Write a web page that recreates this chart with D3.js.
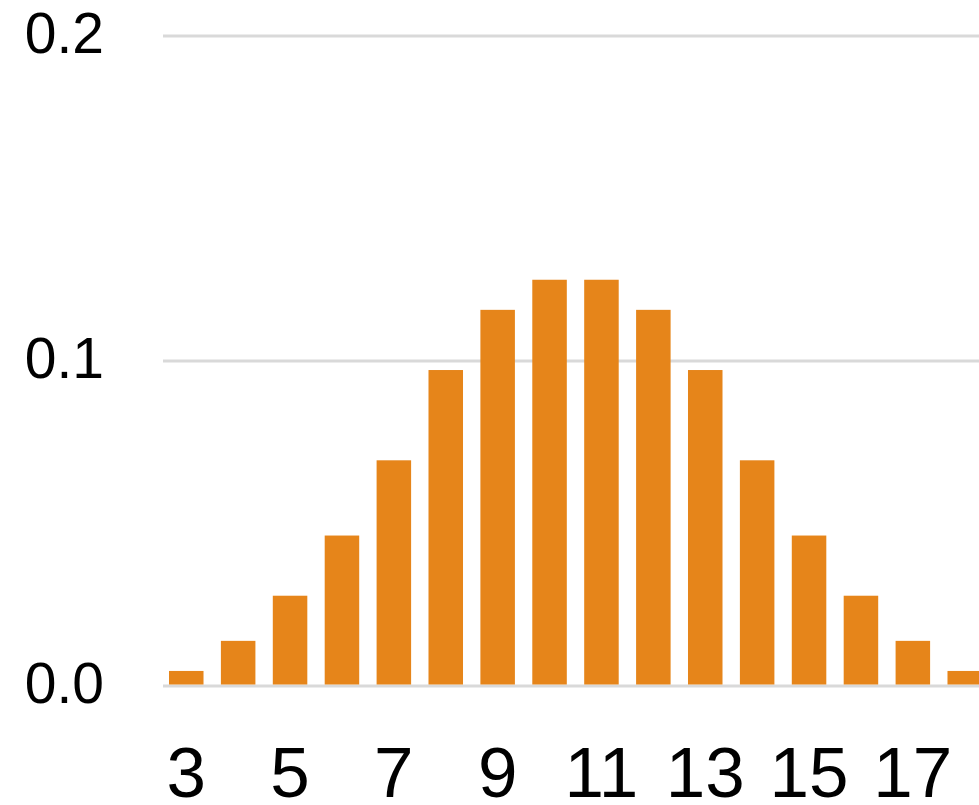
<!DOCTYPE html>
<html>
<head>
<meta charset="utf-8">
<script src="https://cdn.jsdelivr.net/npm/d3@7"></script>
<style>
  html, body { margin: 0; padding: 0; background: #fff; }
  svg { display: block; }
  text { font-family: "Liberation Sans", Arial, sans-serif; fill: #000; }
</style>
</head>
<body>
<script>
// Sum of three dice: probabilities
const sums = [3, 4, 5, 6, 7, 8, 9, 10, 11, 12, 13, 14, 15, 16, 17, 18];
const probabilities = [1/216, 3/216, 6/216, 10/216, 15/216, 21/216, 25/216, 27/216,
                       27/216, 25/216, 21/216, 15/216, 10/216, 6/216, 3/216, 1/216];
const xTickLabels = [3, 5, 7, 9, 11, 13, 15, 17];
const yTickValues = [0.0, 0.1, 0.2];

const W = 979, H = 805;
const svg = d3.select("body").append("svg").attr("width", W).attr("height", H);

const x = d3.scaleBand().domain(sums).range([163, 988]).paddingInner(0.335).paddingOuter(0.1156);
const y = d3.scaleLinear().domain([0, 0.2]).range([686, 36]);

// gridlines
svg.append("g").selectAll("line").data(yTickValues).join("line")
  .attr("x1", 163).attr("x2", W)
  .attr("y1", d => y(d)).attr("y2", d => y(d))
  .attr("stroke", "#d9d9d9").attr("stroke-width", 3);

// y labels
svg.append("g").selectAll("text").data(yTickValues).join("text")
  .attr("x", 104).attr("y", d => y(d) - 3)
  .attr("dy", "0.35em")
  .attr("text-anchor", "end")
  .style("font-size", "57px")
  .text(d => d3.format(".1f")(d));

// bars
svg.append("g").selectAll("rect").data(sums).join("rect")
  .attr("x", d => x(d))
  .attr("width", x.bandwidth())
  .attr("y", (d, i) => y(probabilities[i]))
  .attr("height", (d, i) => y(0) - 1.5 - y(probabilities[i]))
  .attr("fill", "#e6851a");

// x labels
svg.append("g").selectAll("text").data(xTickLabels).join("text")
  .attr("x", d => x(d) + x.bandwidth() / 2)
  .attr("y", 797)
  .attr("text-anchor", "middle")
  .style("font-size", "71px")
  .text(d => d);
</script>
</body>
</html>
